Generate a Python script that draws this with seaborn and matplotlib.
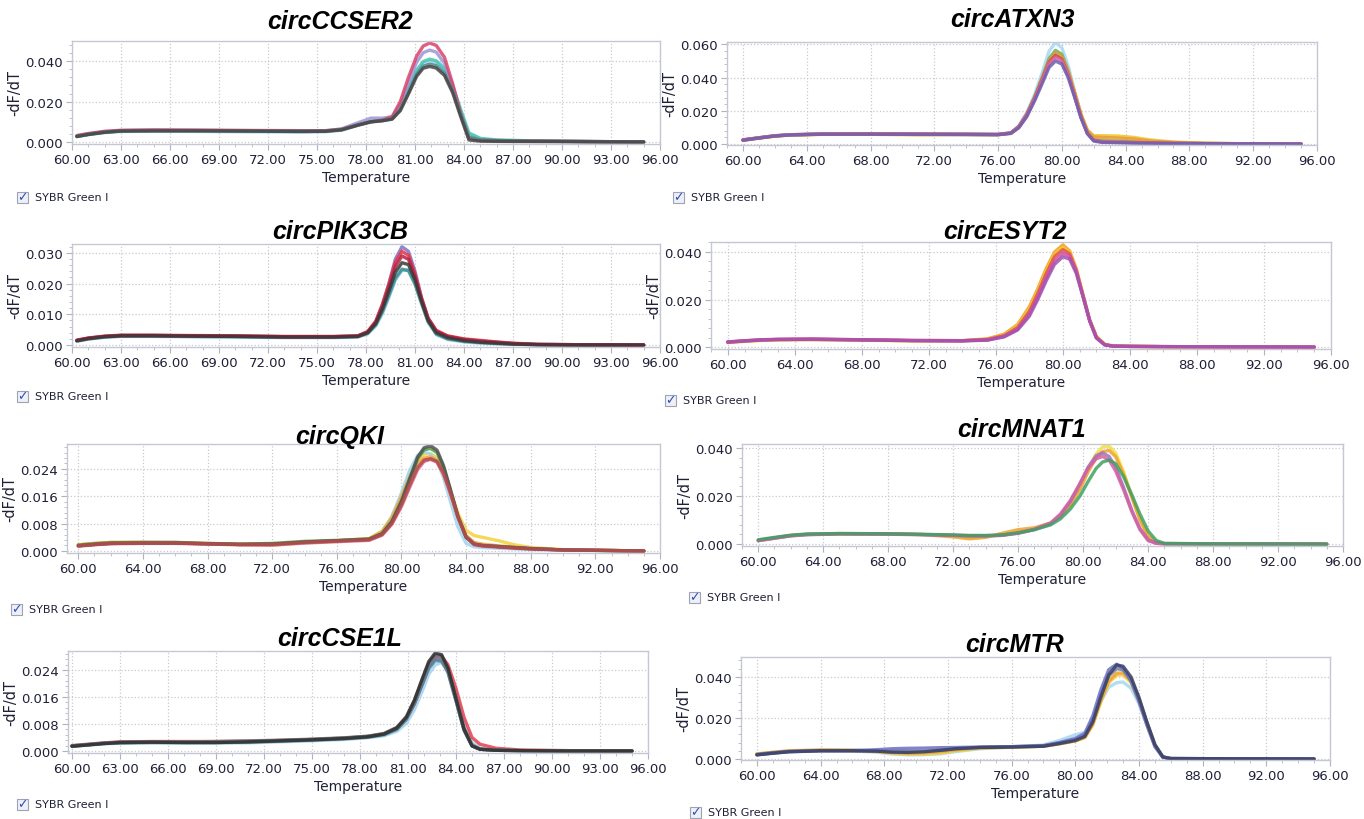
import numpy as np
import pandas as pd
import seaborn as sns
import matplotlib.pyplot as plt
from matplotlib.patches import Rectangle
from matplotlib.ticker import FormatStrFormatter, MultipleLocator, AutoMinorLocator

# ---------------- data ----------------
ccser2_t = [60.3, 61, 62, 63, 65, 68, 71, 74, 75.5, 76.5, 77.5, 78.3, 79, 79.6, 80.1, 80.6,
            81.1, 81.5, 81.9, 82.3, 82.8, 83.3, 83.8, 84.3, 85, 86, 88, 91, 95]
ccser2_y = [
    [0.0026, 0.0036, 0.0046, 0.0052, 0.0053, 0.0052, 0.0050, 0.0048, 0.0050, 0.0058, 0.0082, 0.0098, 0.0105, 0.0115, 0.0165,
     0.0255, 0.0345, 0.0388, 0.0398, 0.0390, 0.0355, 0.0270, 0.0150, 0.0035, 0.0012, 0.0008, 0.0005, 0.0002, 0.0000],
    [0.0028, 0.0038, 0.0048, 0.0054, 0.0056, 0.0055, 0.0054, 0.0053, 0.0053, 0.0060, 0.0085, 0.0102, 0.0108, 0.0118, 0.0170,
     0.0265, 0.0355, 0.0398, 0.0410, 0.0402, 0.0365, 0.0280, 0.0160, 0.0045, 0.0018, 0.0010, 0.0006, 0.0003, 0.0000],
    [0.0030, 0.0040, 0.0050, 0.0056, 0.0058, 0.0057, 0.0055, 0.0054, 0.0055, 0.0065, 0.0095, 0.0118, 0.0118, 0.0125, 0.0185,
     0.0290, 0.0395, 0.0442, 0.0455, 0.0445, 0.0390, 0.0275, 0.0135, 0.0020, 0.0008, 0.0006, 0.0005, 0.0003, 0.0000],
    [0.0032, 0.0042, 0.0053, 0.0058, 0.0060, 0.0059, 0.0057, 0.0056, 0.0056, 0.0063, 0.0085, 0.0100, 0.0108, 0.0125, 0.0200,
     0.0320, 0.0425, 0.0475, 0.0490, 0.0478, 0.0420, 0.0290, 0.0140, 0.0020, 0.0008, 0.0007, 0.0005, 0.0003, 0.0000],
    [0.0028, 0.0038, 0.0049, 0.0055, 0.0056, 0.0056, 0.0054, 0.0053, 0.0054, 0.0061, 0.0084, 0.0100, 0.0106, 0.0115, 0.0160,
     0.0245, 0.0335, 0.0375, 0.0385, 0.0378, 0.0342, 0.0255, 0.0135, 0.0025, 0.0010, 0.0007, 0.0005, 0.0002, 0.0000],
    [0.0027, 0.0037, 0.0048, 0.0054, 0.0055, 0.0055, 0.0054, 0.0052, 0.0053, 0.0060, 0.0083, 0.0100, 0.0105, 0.0113, 0.0155,
     0.0238, 0.0325, 0.0365, 0.0374, 0.0366, 0.0330, 0.0245, 0.0125, 0.0010, 0.0004, 0.0003, 0.0002, 0.0001, 0.0000],
]
ccser2_colors = ['#9fd3ee', '#45c2ae', '#9b97d6', '#d9436a', '#4f8a8c', '#4a4444']

atxn3_t = [60, 61, 62, 63, 65, 68, 71, 74, 76, 76.8, 77.3, 77.8, 78.3, 78.8, 79.2, 79.6, 80, 80.4,
           80.8, 81.2, 81.6, 82, 82.5, 83.5, 84.5, 85.5, 87, 89, 92, 95]
atxn3_y = [
    [0.0025, 0.0038, 0.0050, 0.0056, 0.0060, 0.0061, 0.0060, 0.0059, 0.0058, 0.0068, 0.0110, 0.0190, 0.0300, 0.0440, 0.0560,
     0.0612, 0.0580, 0.0470, 0.0320, 0.0175, 0.0070, 0.0025, 0.0015, 0.0012, 0.0010, 0.0008, 0.0005, 0.0003, 0.0001, 0.0000],
    [0.0024, 0.0037, 0.0049, 0.0055, 0.0059, 0.0060, 0.0059, 0.0058, 0.0057, 0.0066, 0.0105, 0.0180, 0.0285, 0.0410, 0.0515,
     0.0565, 0.0540, 0.0440, 0.0305, 0.0170, 0.0070, 0.0028, 0.0020, 0.0018, 0.0015, 0.0010, 0.0006, 0.0003, 0.0001, 0.0000],
    [0.0022, 0.0035, 0.0047, 0.0054, 0.0058, 0.0058, 0.0055, 0.0057, 0.0056, 0.0064, 0.0100, 0.0170, 0.0270, 0.0390, 0.0490,
     0.0530, 0.0515, 0.0430, 0.0310, 0.0180, 0.0085, 0.0050, 0.0050, 0.0048, 0.0040, 0.0025, 0.0012, 0.0005, 0.0001, 0.0000],
    [0.0023, 0.0036, 0.0048, 0.0055, 0.0059, 0.0059, 0.0058, 0.0058, 0.0057, 0.0065, 0.0102, 0.0175, 0.0278, 0.0400, 0.0500,
     0.0545, 0.0525, 0.0435, 0.0310, 0.0178, 0.0080, 0.0042, 0.0040, 0.0036, 0.0030, 0.0018, 0.0009, 0.0004, 0.0001, 0.0000],
    [0.0024, 0.0037, 0.0049, 0.0056, 0.0060, 0.0061, 0.0060, 0.0059, 0.0058, 0.0067, 0.0105, 0.0178, 0.0280, 0.0398, 0.0495,
     0.0535, 0.0512, 0.0420, 0.0292, 0.0162, 0.0065, 0.0022, 0.0014, 0.0011, 0.0009, 0.0007, 0.0004, 0.0002, 0.0001, 0.0000],
    [0.0025, 0.0038, 0.0050, 0.0056, 0.0060, 0.0060, 0.0059, 0.0058, 0.0057, 0.0066, 0.0102, 0.0172, 0.0272, 0.0388, 0.0482,
     0.0520, 0.0500, 0.0412, 0.0288, 0.0160, 0.0065, 0.0022, 0.0013, 0.0010, 0.0008, 0.0006, 0.0004, 0.0002, 0.0001, 0.0000],
    [0.0023, 0.0036, 0.0048, 0.0055, 0.0059, 0.0059, 0.0058, 0.0057, 0.0056, 0.0064, 0.0098, 0.0165, 0.0262, 0.0372, 0.0462,
     0.0500, 0.0482, 0.0400, 0.0282, 0.0158, 0.0062, 0.0018, 0.0010, 0.0008, 0.0006, 0.0005, 0.0003, 0.0002, 0.0001, 0.0000],
]
atxn3_colors = ['#a6d8f0', '#7fa84f', '#eac52a', '#e99a35', '#c9505c', '#d96aa2', '#6e5fb0']

pik3cb_t = [60.3, 61, 62, 63, 65, 67, 70, 73, 76, 77.5, 78.1, 78.6, 79.0, 79.4, 79.8, 80.2, 80.6,
            81.0, 81.4, 81.8, 82.3, 83, 84, 85, 86, 87, 88.5, 91, 95]
pik3cb_y = [
    [0.0012, 0.0019, 0.0025, 0.0028, 0.0028, 0.0027, 0.0026, 0.0024, 0.0024, 0.0026, 0.0036, 0.0062, 0.0102, 0.0155, 0.0212,
     0.0243, 0.0245, 0.0208, 0.0145, 0.0080, 0.0034, 0.0018, 0.0010, 0.0006, 0.0004, 0.0002, 0.0001, 0.0000, 0.0000],
    [0.0013, 0.0020, 0.0026, 0.0029, 0.0029, 0.0028, 0.0027, 0.0025, 0.0025, 0.0027, 0.0038, 0.0066, 0.0108, 0.0162, 0.0218,
     0.0247, 0.0242, 0.0198, 0.0135, 0.0075, 0.0036, 0.0020, 0.0012, 0.0008, 0.0005, 0.0003, 0.0001, 0.0000, 0.0000],
    [0.0015, 0.0022, 0.0028, 0.0031, 0.0031, 0.0030, 0.0029, 0.0027, 0.0027, 0.0029, 0.0042, 0.0076, 0.0130, 0.0200, 0.0280,
     0.0320, 0.0305, 0.0240, 0.0155, 0.0088, 0.0045, 0.0028, 0.0018, 0.0012, 0.0008, 0.0004, 0.0002, 0.0001, 0.0000],
    [0.0016, 0.0023, 0.0029, 0.0032, 0.0032, 0.0031, 0.0030, 0.0028, 0.0028, 0.0030, 0.0044, 0.0078, 0.0132, 0.0198, 0.0270,
     0.0305, 0.0292, 0.0232, 0.0152, 0.0088, 0.0048, 0.0030, 0.0020, 0.0015, 0.0010, 0.0006, 0.0002, 0.0001, 0.0000],
    [0.0015, 0.0022, 0.0028, 0.0031, 0.0031, 0.0030, 0.0029, 0.0027, 0.0027, 0.0029, 0.0042, 0.0074, 0.0125, 0.0188, 0.0255,
     0.0290, 0.0279, 0.0222, 0.0148, 0.0085, 0.0045, 0.0028, 0.0018, 0.0013, 0.0009, 0.0005, 0.0002, 0.0001, 0.0000],
    [0.0014, 0.0021, 0.0027, 0.0030, 0.0030, 0.0029, 0.0028, 0.0026, 0.0026, 0.0028, 0.0040, 0.0070, 0.0116, 0.0175, 0.0237,
     0.0268, 0.0262, 0.0212, 0.0142, 0.0080, 0.0040, 0.0024, 0.0014, 0.0009, 0.0006, 0.0003, 0.0001, 0.0000, 0.0000],
]
pik3cb_colors = ['#8ec8e8', '#3a8f8f', '#8070c0', '#e2344a', '#b8203e', '#3a3838']

esyt2_t = [60, 61, 62, 63, 65, 68, 71, 74, 75.5, 76.5, 77.3, 78, 78.5, 79, 79.5, 80, 80.4, 80.8,
           81.2, 81.6, 82, 82.5, 83, 84, 86, 90, 95]
esyt2_y = [
    [0.0020, 0.0025, 0.0029, 0.0031, 0.0032, 0.0030, 0.0027, 0.0027, 0.0035, 0.0055, 0.0095, 0.0170, 0.0245, 0.0330, 0.0400,
     0.0430, 0.0405, 0.0330, 0.0220, 0.0115, 0.0045, 0.0012, 0.0005, 0.0003, 0.0002, 0.0001, 0.0000],
    [0.0019, 0.0024, 0.0028, 0.0030, 0.0031, 0.0029, 0.0026, 0.0026, 0.0033, 0.0050, 0.0088, 0.0160, 0.0235, 0.0318, 0.0390,
     0.0420, 0.0398, 0.0325, 0.0218, 0.0112, 0.0042, 0.0010, 0.0004, 0.0003, 0.0002, 0.0001, 0.0000],
    [0.0021, 0.0026, 0.0030, 0.0032, 0.0033, 0.0031, 0.0028, 0.0027, 0.0032, 0.0048, 0.0082, 0.0150, 0.0225, 0.0308, 0.0380,
     0.0410, 0.0392, 0.0322, 0.0215, 0.0110, 0.0040, 0.0010, 0.0004, 0.0003, 0.0002, 0.0001, 0.0000],
    [0.0022, 0.0027, 0.0031, 0.0033, 0.0034, 0.0031, 0.0028, 0.0027, 0.0030, 0.0045, 0.0075, 0.0138, 0.0210, 0.0290, 0.0362,
     0.0395, 0.0382, 0.0318, 0.0215, 0.0112, 0.0040, 0.0010, 0.0004, 0.0003, 0.0002, 0.0001, 0.0000],
    [0.0021, 0.0026, 0.0030, 0.0032, 0.0033, 0.0030, 0.0027, 0.0026, 0.0029, 0.0043, 0.0072, 0.0130, 0.0200, 0.0278, 0.0348,
     0.0380, 0.0370, 0.0310, 0.0212, 0.0110, 0.0038, 0.0009, 0.0004, 0.0003, 0.0002, 0.0001, 0.0000],
]
esyt2_colors = ['#f0a020', '#efc832', '#e05050', '#d24fa2', '#a152b2']

qki_t = [60, 61, 62, 64, 66, 68, 70, 72, 74, 76, 78, 78.8, 79.4, 80, 80.5, 81, 81.4, 81.8, 82.2,
         82.6, 83, 83.5, 84, 84.5, 85, 86, 87, 88, 90, 95]
qki_y = [
    [0.0018, 0.0022, 0.0025, 0.0025, 0.0024, 0.0021, 0.0018, 0.0017, 0.0024, 0.0029, 0.0036, 0.0058, 0.0100, 0.0165, 0.0225,
     0.0268, 0.0283, 0.0285, 0.0272, 0.0235, 0.0180, 0.0110, 0.0060, 0.0045, 0.0040, 0.0030, 0.0018, 0.0010, 0.0004, 0.0000],
    [0.0016, 0.0020, 0.0023, 0.0024, 0.0024, 0.0021, 0.0019, 0.0019, 0.0024, 0.0029, 0.0034, 0.0055, 0.0100, 0.0170, 0.0235,
     0.0280, 0.0290, 0.0283, 0.0262, 0.0215, 0.0150, 0.0070, 0.0022, 0.0012, 0.0010, 0.0008, 0.0006, 0.0004, 0.0002, 0.0000],
    [0.0018, 0.0022, 0.0025, 0.0025, 0.0025, 0.0022, 0.0020, 0.0020, 0.0026, 0.0030, 0.0036, 0.0056, 0.0096, 0.0158, 0.0215,
     0.0258, 0.0272, 0.0275, 0.0265, 0.0230, 0.0175, 0.0100, 0.0045, 0.0025, 0.0020, 0.0015, 0.0011, 0.0007, 0.0003, 0.0000],
    [0.0017, 0.0021, 0.0024, 0.0025, 0.0025, 0.0022, 0.0020, 0.0022, 0.0028, 0.0031, 0.0035, 0.0051, 0.0086, 0.0145, 0.0208,
     0.0270, 0.0296, 0.0300, 0.0288, 0.0245, 0.0182, 0.0100, 0.0040, 0.0020, 0.0016, 0.0013, 0.0010, 0.0007, 0.0003, 0.0000],
    [0.0014, 0.0018, 0.0021, 0.0022, 0.0022, 0.0020, 0.0018, 0.0017, 0.0023, 0.0027, 0.0031, 0.0046, 0.0078, 0.0130, 0.0185,
     0.0238, 0.0262, 0.0268, 0.0260, 0.0225, 0.0172, 0.0098, 0.0040, 0.0018, 0.0014, 0.0011, 0.0008, 0.0006, 0.0003, 0.0000],
    [0.0015, 0.0019, 0.0022, 0.0023, 0.0023, 0.0021, 0.0019, 0.0020, 0.0026, 0.0030, 0.0034, 0.0050, 0.0085, 0.0145, 0.0210,
     0.0275, 0.0302, 0.0308, 0.0295, 0.0250, 0.0185, 0.0100, 0.0040, 0.0020, 0.0016, 0.0013, 0.0010, 0.0007, 0.0003, 0.0000],
    [0.0015, 0.0019, 0.0022, 0.0023, 0.0023, 0.0021, 0.0019, 0.0019, 0.0025, 0.0029, 0.0033, 0.0048, 0.0080, 0.0135, 0.0192,
     0.0245, 0.0266, 0.0270, 0.0262, 0.0228, 0.0175, 0.0100, 0.0042, 0.0020, 0.0016, 0.0012, 0.0009, 0.0006, 0.0003, 0.0000],
]
qki_colors = ['#f2d23e', '#a2d4f0', '#f1a440', '#4f9a40', '#d96a8c', '#525252', '#b54c4c']

mnat1_t = [60, 61, 62, 63, 65, 68, 70, 72, 73, 74, 75, 76, 77, 78, 78.6, 79.2, 79.8, 80.3, 80.8,
           81.2, 81.6, 82, 82.5, 83, 83.5, 84, 84.5, 85, 88, 95]
mnat1_y = [
    [0.0015, 0.0025, 0.0035, 0.0040, 0.0043, 0.0042, 0.0040, 0.0035, 0.0028, 0.0030, 0.0038, 0.0050, 0.0062, 0.0085, 0.0115,
     0.0165, 0.0235, 0.0310, 0.0375, 0.0405, 0.0408, 0.0380, 0.0300, 0.0200, 0.0105, 0.0035, 0.0008, 0.0002, 0.0001, 0.0000],
    [0.0016, 0.0026, 0.0036, 0.0041, 0.0044, 0.0043, 0.0040, 0.0030, 0.0022, 0.0028, 0.0045, 0.0060, 0.0068, 0.0088, 0.0115,
     0.0162, 0.0228, 0.0300, 0.0360, 0.0385, 0.0390, 0.0365, 0.0290, 0.0195, 0.0100, 0.0032, 0.0007, 0.0002, 0.0001, 0.0000],
    [0.0014, 0.0024, 0.0034, 0.0039, 0.0042, 0.0041, 0.0039, 0.0036, 0.0034, 0.0034, 0.0036, 0.0045, 0.0060, 0.0085, 0.0120,
     0.0175, 0.0250, 0.0320, 0.0368, 0.0380, 0.0365, 0.0320, 0.0235, 0.0140, 0.0065, 0.0018, 0.0004, 0.0001, 0.0001, 0.0000],
    [0.0015, 0.0025, 0.0035, 0.0040, 0.0043, 0.0042, 0.0040, 0.0037, 0.0035, 0.0035, 0.0037, 0.0046, 0.0062, 0.0088, 0.0125,
     0.0180, 0.0252, 0.0315, 0.0355, 0.0365, 0.0350, 0.0305, 0.0225, 0.0135, 0.0060, 0.0015, 0.0003, 0.0001, 0.0001, 0.0000],
    [0.0018, 0.0028, 0.0037, 0.0042, 0.0044, 0.0043, 0.0041, 0.0038, 0.0036, 0.0036, 0.0038, 0.0047, 0.0060, 0.0080, 0.0105,
     0.0145, 0.0200, 0.0260, 0.0315, 0.0342, 0.0350, 0.0335, 0.0280, 0.0205, 0.0125, 0.0055, 0.0015, 0.0003, 0.0001, 0.0000],
]
mnat1_colors = ['#f0e040', '#f0a030', '#a070c0', '#d460a4', '#3fa064']

cse1l_t = [60, 61, 62, 63, 65, 67, 69, 71, 73, 75, 77, 78.5, 79.5, 80.3, 80.9, 81.4, 81.9, 82.3,
           82.7, 83.1, 83.5, 84, 84.5, 85, 85.5, 86.5, 88, 91, 95]
cse1l_y = [
    [0.0013, 0.0017, 0.0021, 0.0023, 0.0024, 0.0023, 0.0023, 0.0024, 0.0027, 0.0030, 0.0034, 0.0039, 0.0045, 0.0058, 0.0082,
     0.0122, 0.0178, 0.0228, 0.0255, 0.0262, 0.0240, 0.0170, 0.0080, 0.0025, 0.0008, 0.0003, 0.0001, 0.0000, 0.0000],
    [0.0016, 0.0020, 0.0024, 0.0027, 0.0028, 0.0028, 0.0028, 0.0029, 0.0031, 0.0034, 0.0038, 0.0043, 0.0050, 0.0065, 0.0095,
     0.0140, 0.0200, 0.0250, 0.0278, 0.0280, 0.0255, 0.0185, 0.0100, 0.0040, 0.0020, 0.0008, 0.0003, 0.0001, 0.0000],
    [0.0014, 0.0018, 0.0022, 0.0024, 0.0025, 0.0025, 0.0025, 0.0026, 0.0029, 0.0032, 0.0036, 0.0041, 0.0048, 0.0064, 0.0094,
     0.0140, 0.0198, 0.0245, 0.0268, 0.0266, 0.0232, 0.0148, 0.0062, 0.0015, 0.0005, 0.0002, 0.0001, 0.0000, 0.0000],
    [0.0015, 0.0019, 0.0023, 0.0025, 0.0026, 0.0026, 0.0026, 0.0028, 0.0031, 0.0034, 0.0038, 0.0043, 0.0051, 0.0068, 0.0098,
     0.0145, 0.0205, 0.0250, 0.0273, 0.0270, 0.0235, 0.0150, 0.0062, 0.0015, 0.0005, 0.0002, 0.0001, 0.0000, 0.0000],
    [0.0015, 0.0019, 0.0023, 0.0026, 0.0027, 0.0027, 0.0028, 0.0030, 0.0032, 0.0035, 0.0039, 0.0044, 0.0052, 0.0070, 0.0102,
     0.0150, 0.0212, 0.0260, 0.0284, 0.0280, 0.0242, 0.0155, 0.0068, 0.0018, 0.0006, 0.0002, 0.0001, 0.0000, 0.0000],
    [0.0014, 0.0018, 0.0022, 0.0025, 0.0026, 0.0025, 0.0025, 0.0027, 0.0030, 0.0033, 0.0037, 0.0042, 0.0050, 0.0068, 0.0100,
     0.0150, 0.0215, 0.0265, 0.0290, 0.0285, 0.0245, 0.0155, 0.0065, 0.0015, 0.0005, 0.0002, 0.0001, 0.0000, 0.0000],
]
cse1l_colors = ['#a2d2f0', '#e2404f', '#3f8a8a', '#6a7aa2', '#767676', '#2e2e2e']

mtr_t = [60, 61, 62, 64, 66, 67.5, 68.5, 69.5, 70.5, 71.5, 72.5, 74, 76, 78, 79, 80, 80.6, 81.1,
         81.6, 82.1, 82.6, 83, 83.5, 84, 84.5, 85, 85.5, 86, 90, 95]
mtr_y = [
    [0.0020, 0.0028, 0.0035, 0.0039, 0.0039, 0.0033, 0.0024, 0.0020, 0.0021, 0.0025, 0.0036, 0.0050, 0.0058, 0.0068, 0.0090,
     0.0118, 0.0130, 0.0185, 0.0280, 0.0350, 0.0372, 0.0375, 0.0345, 0.0270, 0.0165, 0.0065, 0.0010, 0.0002, 0.0001, 0.0000],
    [0.0025, 0.0033, 0.0040, 0.0044, 0.0043, 0.0036, 0.0028, 0.0024, 0.0024, 0.0028, 0.0040, 0.0052, 0.0057, 0.0062, 0.0074,
     0.0088, 0.0105, 0.0165, 0.0278, 0.0372, 0.0408, 0.0410, 0.0372, 0.0285, 0.0172, 0.0066, 0.0010, 0.0002, 0.0001, 0.0000],
    [0.0024, 0.0032, 0.0039, 0.0043, 0.0042, 0.0038, 0.0032, 0.0028, 0.0030, 0.0036, 0.0045, 0.0055, 0.0058, 0.0062, 0.0074,
     0.0088, 0.0105, 0.0170, 0.0285, 0.0380, 0.0418, 0.0420, 0.0380, 0.0290, 0.0175, 0.0068, 0.0010, 0.0002, 0.0001, 0.0000],
    [0.0021, 0.0029, 0.0036, 0.0040, 0.0040, 0.0039, 0.0038, 0.0037, 0.0038, 0.0042, 0.0050, 0.0057, 0.0060, 0.0064, 0.0078,
     0.0095, 0.0115, 0.0190, 0.0310, 0.0405, 0.0440, 0.0435, 0.0388, 0.0292, 0.0175, 0.0068, 0.0010, 0.0002, 0.0001, 0.0000],
    [0.0022, 0.0030, 0.0037, 0.0041, 0.0041, 0.0045, 0.0050, 0.0052, 0.0053, 0.0055, 0.0056, 0.0058, 0.0060, 0.0065, 0.0080,
     0.0100, 0.0125, 0.0210, 0.0335, 0.0435, 0.0462, 0.0440, 0.0380, 0.0280, 0.0165, 0.0060, 0.0008, 0.0002, 0.0001, 0.0000],
    [0.0020, 0.0028, 0.0035, 0.0040, 0.0040, 0.0038, 0.0033, 0.0032, 0.0035, 0.0042, 0.0050, 0.0056, 0.0058, 0.0062, 0.0075,
     0.0090, 0.0110, 0.0180, 0.0300, 0.0410, 0.0458, 0.0452, 0.0400, 0.0300, 0.0180, 0.0070, 0.0010, 0.0002, 0.0001, 0.0000],
]
mtr_colors = ['#a8d8f0', '#f0d040', '#f0a030', '#7482a4', '#6a70c2', '#3a4062']

# ---------------- layout (pixel boxes of the 1364x820 screenshot) ----------------
W, H = 1364, 820

sns.set_style('white')
plt.rcParams['font.family'] = ['DejaVu Sans']

fig = plt.figure(figsize=(W / 100, H / 100), dpi=100)
fig.patch.set_facecolor('white')

TXT = '#1f2036'
GRID = '#c9c9cf'
TITLE_FONT = ['Liberation Sans', 'DejaVu Sans']


def px_box(left, top, right, bottom):
    return [left / W, 1 - bottom / H, (right - left) / W, (bottom - top) / H]


def draw_panel(box, temps, curves, colors, xlim, ylim, xstep, yticks, title, title_xy, check_xy):
    ax = fig.add_axes(px_box(*box))
    rows = []
    for i, ys in enumerate(curves):
        for t, y in zip(temps, ys):
            rows.append((t, y, i))
    df = pd.DataFrame(rows, columns=['Temperature', 'dFdT', 'run'])
    sns.lineplot(data=df, x='Temperature', y='dFdT', hue='run', palette=colors,
                 estimator=None, sort=False, legend=False, linewidth=2.4, alpha=0.85, ax=ax)
    ax.set_xlim(*xlim)
    ax.set_ylim(*ylim)
    ax.set_xticks(np.arange(60, 97, xstep))
    ax.xaxis.set_minor_locator(MultipleLocator(1))
    ax.set_yticks(yticks)
    ax.yaxis.set_minor_locator(AutoMinorLocator(5))
    ax.xaxis.set_major_formatter(FormatStrFormatter('%.2f'))
    ax.yaxis.set_major_formatter(FormatStrFormatter('%.3f'))
    ax.grid(True, which='major', color=GRID, linestyle=':', linewidth=0.9)
    for s in ax.spines.values():
        s.set_color('#c5c8d4')
        s.set_linewidth(1.0)
    ax.tick_params(axis='both', which='major', labelsize=9.5, colors='#b0b2bc', labelcolor=TXT,
                   length=4, width=0.8, direction='out', bottom=True, left=True, pad=2.5)
    ax.tick_params(axis='both', which='minor', colors='#c0c2ca', length=2.5, width=0.7,
                   direction='out', bottom=True, left=True)
    ax.set_xlabel('Temperature', fontsize=10, color=TXT, labelpad=3)
    ax.set_ylabel('-dF/dT', fontsize=10.5, color=TXT, labelpad=2)

    fig.text(title_xy[0] / W, 1 - title_xy[1] / H, title, ha='center', va='center',
             fontsize=18, fontweight='bold', fontstyle='italic', family=TITLE_FONT,
             color='black')

    cx, cy = check_xy
    s = 11
    fig.patches.append(Rectangle(((cx - s / 2) / W, 1 - (cy + s / 2) / H), s / W, s / H,
                                 transform=fig.transFigure, facecolor='#eef0f6',
                                 edgecolor='#9ea2b4', linewidth=0.8))
    fig.text(cx / W, 1 - cy / H, '\u2713', ha='center', va='center', fontsize=9,
             color='#2a4fc0', fontweight='bold')
    fig.text((cx + 13) / W, 1 - cy / H, 'SYBR Green I', ha='left', va='center',
             fontsize=8, color=TXT)
    return ax


draw_panel((72, 42, 660, 145), ccser2_t, ccser2_y, ccser2_colors, (60, 96), (-0.001, 0.050), 3,
           [0, 0.02, 0.04], 'circCCSER2', (340, 22), (22, 198))
draw_panel((727, 43, 1317, 146), atxn3_t, atxn3_y, atxn3_colors, (59, 96), (-0.0006, 0.0615), 4,
           [0, 0.02, 0.04, 0.06], 'circATXN3', (1012, 20), (678, 198))
draw_panel((72, 245, 660, 348), pik3cb_t, pik3cb_y, pik3cb_colors, (60, 96), (-0.00065, 0.0329), 3,
           [0, 0.01, 0.02, 0.03], 'circPIK3CB', (340, 232), (22, 397))
draw_panel((711, 243, 1331, 350), esyt2_t, esyt2_y, esyt2_colors, (59, 96), (-0.0008, 0.0442), 4,
           [0, 0.02, 0.04], 'circESYT2', (1005, 232), (670, 401))
draw_panel((67, 445, 660, 554), qki_t, qki_y, qki_colors, (59.3, 96), (-0.0006, 0.0313), 4,
           [0, 0.008, 0.016, 0.024], 'circQKI', (340, 437), (16, 610))
draw_panel((742, 445, 1343, 547), mnat1_t, mnat1_y, mnat1_colors, (59, 96), (-0.0008, 0.0417), 4,
           [0, 0.02, 0.04], 'circMNAT1', (1022, 430), (694, 598))
draw_panel((68, 652, 648, 754), cse1l_t, cse1l_y, cse1l_colors, (59.75, 96), (-0.0006, 0.0296), 3,
           [0, 0.008, 0.016, 0.024], 'circCSE1L', (340, 639), (22, 805))
draw_panel((741, 658, 1330, 761), mtr_t, mtr_y, mtr_colors, (59, 96), (-0.0005, 0.0497), 4,
           [0, 0.02, 0.04], 'circMTR', (1015, 645), (695, 813))

fig.savefig('out.png', dpi=100)
